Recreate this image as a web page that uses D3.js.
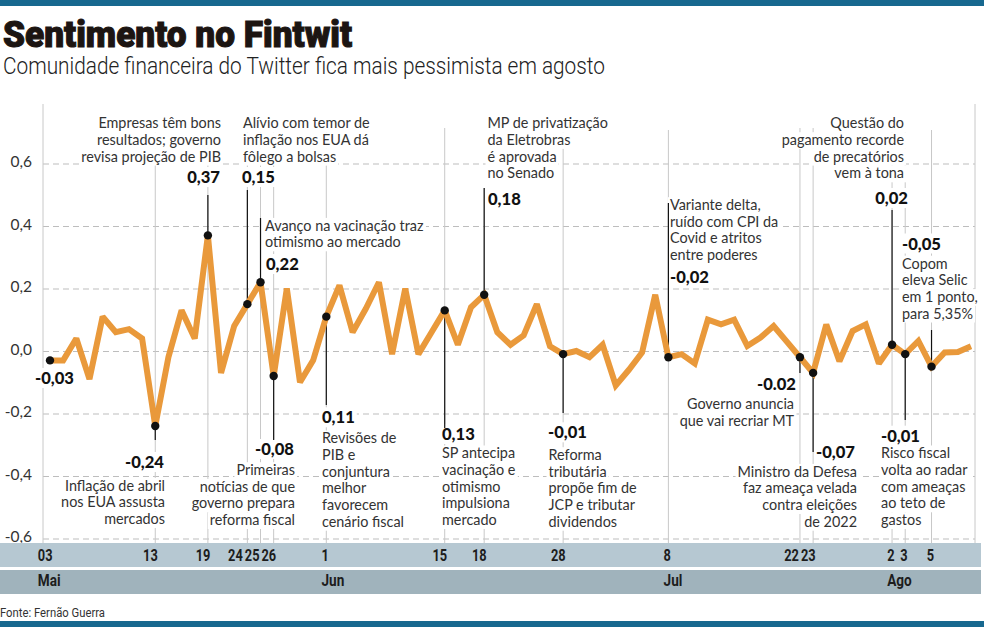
<!DOCTYPE html>
<html><head><meta charset="utf-8">
<script src="https://cdn.jsdelivr.net/npm/d3@7"></script>
<style>
body{margin:0;background:#fff;}
svg{display:block;}
</style></head><body>
<svg id="chart" width="984" height="627"></svg>
<script>
// ---------- DATA ----------
const values = [
  -0.03,-0.03,0.04,-0.09,0.11,0.06,0.07,0.04,-0.24,-0.02,
  0.13,0.04,0.37,-0.07,0.08,0.15,0.22,-0.08,0.20,-0.10,
  -0.03,0.11,0.21,0.06,0.135,0.22,-0.01,0.20,-0.01,0.06,
  0.13,0.02,0.14,0.18,0.06,0.02,0.05,0.15,0.015,-0.01,
  0.0,-0.02,0.02,-0.11,-0.06,-0.005,0.18,-0.02,-0.01,-0.04,
  0.10,0.085,0.10,0.016,0.043,0.08,0.03,-0.02,-0.07,0.085,
  -0.033,0.064,0.085,-0.04,0.02,-0.01,0.032,-0.05,-0.005,-0.003,0.015
];
const yTicks = [-0.6,-0.4,-0.2,0,0.2,0.4,0.6];
const tickIdx = [0,8,12,15,16,17,21,30,33,39,47,57,58,64,65,67];
const tickLabels = ["03","13","19","24","25","26","1","15","18","28","8","22","23","2","3","5"];
const monthLabels = ["Mai","Jun","Jul","Ago"];
const monthTickPos = [0,6,10,13];

const eventIdx = [0,8,12,15,16,17,21,30,33,39,47,57,58,64,65,67];
const eventValueLabels = ["-0,03","-0,24","0,37","0,15","0,22","-0,08","0,11","0,13","0,18","-0,01","-0,02","-0.02","-0,07","0,02","-0,01","-0,05"];
const eventTexts = [
  [],
  ["Inflação de abril","nos EUA assusta","mercados"],
  ["Empresas têm bons","resultados; governo","revisa projeção de PIB"],
  ["Alívio com temor de","inflação nos EUA dá","fôlego a bolsas"],
  ["Avanço na vacinação traz","otimismo ao mercado"],
  ["Primeiras","notícias de que","governo prepara","reforma fiscal"],
  ["Revisões de","PIB e","conjuntura","melhor","favorecem","cenário fiscal"],
  ["SP antecipa","vacinação e","otimismo","impulsiona","mercado"],
  ["MP de privatização","da Eletrobras","é aprovada","no Senado"],
  ["Reforma","tributária","propõe fim de","JCP e tributar","dividendos"],
  ["Variante delta,","ruído com CPI da","Covid e atritos","entre poderes"],
  ["Governo anuncia","que vai recriar MT"],
  ["Ministro da Defesa","faz ameaça velada","contra eleições","de 2022"],
  ["Questão do","pagamento recorde","de precatórios","vem à tona"],
  ["Risco fiscal","volta ao radar","com ameaças","ao teto de","gastos"],
  ["Copom","eleva Selic","em 1 ponto,","para 5,35%"]
];

// ---------- LAYOUT (pixel placement of annotations) ----------
const eventLayout = [
  {vx:35,  va:"start", vy:384,   tx:0,     ta:"start", ty:0,     lead:null, top:null},
  {vx:164, va:"end",   vy:468,   tx:165,   ta:"end",   ty:490.7, lead:440,  top:128},
  {vx:220, va:"end",   vy:183,   tx:221,   ta:"end",   ty:128.3, lead:195,  top:128},
  {vx:242, va:"start", vy:183,   tx:243,   ta:"start", ty:128.3, lead:190,  top:128},
  {vx:266, va:"start", vy:270,   tx:265,   ta:"start", ty:230.7, lead:218,  top:128},
  {vx:294, va:"end",   vy:455,   tx:295,   ta:"end",   ty:475,   lead:440,  top:128},
  {vx:322, va:"start", vy:423.3, tx:322,   ta:"start", ty:443.3, lead:405,  top:128},
  {vx:442, va:"start", vy:440,   tx:442,   ta:"start", ty:458.3, lead:428,  top:128},
  {vx:488, va:"start", vy:205,   tx:487.5, ta:"start", ty:128.3, lead:188,  top:188},
  {vx:548, va:"start", vy:438.3, tx:548.5, ta:"start", ty:460,   lead:413,  top:128},
  {vx:670, va:"start", vy:282.7, tx:670,   ta:"start", ty:210,   lead:203,  top:130},
  {vx:796, va:"end",   vy:389.5, tx:794,   ta:"end",   ty:409,   lead:373,  top:128},
  {vx:816, va:"start", vy:458.3, tx:857,   ta:"end",   ty:476.7, lead:452,  top:128},
  {vx:908, va:"end",   vy:204,   tx:904,   ta:"end",   ty:128.3, lead:210,  top:128},
  {vx:881, va:"start", vy:441.7, tx:881,   ta:"start", ty:458.3, lead:420,  top:128},
  {vx:902, va:"start", vy:249.5, tx:902,   ta:"start", ty:268.5, lead:330,  top:130}
];

// ---------- CHART ----------
const W = 984, H = 627;
const BLUE = "#17688f", ORANGE = "#e9993b";
const TXT_FONT = "Lato, 'Open Sans', sans-serif";
const COND_FONT = "Roboto, 'Liberation Sans', sans-serif";
const svg = d3.select("#chart");

const x = d3.scaleLinear().domain([0, values.length - 1]).range([50, 971]);
const y = d3.scaleLinear().domain([-0.6, 0.6]).range([538.5, 163.5]);
const PLOT_L = 43, PLOT_R = 975, PLOT_T = 104, PLOT_B = 543;

function condense(sel, f) {
  sel.each(function () {
    const w = this.getComputedTextLength();
    this.__w = w * f;
    d3.select(this).attr("textLength", w * f).attr("lengthAdjust", "spacingAndGlyphs");
  });
}

// bars
svg.append("rect").attr("x", 0).attr("y", 0).attr("width", W).attr("height", 6).attr("fill", BLUE);
svg.append("rect").attr("x", 0).attr("y", 621).attr("width", W).attr("height", 6).attr("fill", BLUE);

// title & subtitle
svg.append("text").attr("x", 3).attr("y", 47).text("Sentimento no Fintwit")
  .attr("font-family", COND_FONT).attr("font-weight", 900).attr("font-size", 36)
  .attr("fill", "#1c1512").attr("stroke", "#1c1512").attr("stroke-width", 1.1)
  .attr("textLength", 349).attr("lengthAdjust", "spacingAndGlyphs");
svg.append("text").attr("x", 3).attr("y", 74)
  .text("Comunidade financeira do Twitter fica mais pessimista em agosto")
  .attr("font-family", COND_FONT).attr("font-weight", 300).attr("font-size", 23)
  .attr("fill", "#222").attr("textLength", 602).attr("lengthAdjust", "spacingAndGlyphs");

// y grid / axis
const fmt = d => d3.format(".1f")(d).replace("−", "-").replace(".", ",");
const yAxis = d3.axisLeft(y).tickValues(yTicks).tickFormat(fmt)
  .tickSize(-(PLOT_R - PLOT_L)).tickPadding(11);
const gy = svg.append("g").attr("transform", `translate(${PLOT_L},0)`).call(yAxis);
gy.select(".domain").remove();
gy.selectAll("line").attr("stroke", "#bdbdbd").attr("stroke-dasharray", "6,4");
gy.selectAll("text").attr("font-family", TXT_FONT).attr("font-size", 15.5)
  .attr("fill", "#333").attr("dy", "0.2em");

// frame verticals
[PLOT_L, PLOT_R].forEach(px => {
  svg.append("line").attr("x1", px).attr("x2", px).attr("y1", PLOT_T).attr("y2", PLOT_B)
    .attr("stroke", "#c8c8c8").attr("stroke-width", 1);
});

// event grey verticals
const gVert = svg.append("g");
eventIdx.forEach((idx, k) => {
  const L = eventLayout[k];
  if (L.top == null) return;
  gVert.append("line").attr("x1", x(idx)).attr("x2", x(idx))
    .attr("y1", L.top).attr("y2", PLOT_B)
    .attr("stroke", "#c8c8c8").attr("stroke-width", 1);
});

const gBg = svg.append("g");
const gTxt = svg.append("g");
const LH = 16.7;

eventIdx.forEach((idx, k) => {
  const L = eventLayout[k];
  // value label
  const v = gTxt.append("text").attr("x", L.vx).attr("y", L.vy).attr("text-anchor", L.va)
    .attr("font-family", TXT_FONT).attr("font-weight", 900).attr("font-size", 16.6)
    .attr("fill", "#111").text(eventValueLabels[k]);
  const bb = v.node().getBBox();
  gBg.append("rect").attr("x", bb.x - 2).attr("y", bb.y).attr("width", bb.width + 4)
    .attr("height", bb.height).attr("fill", "#fff");
  // descriptive text
  eventTexts[k].forEach((line, j) => {
    const yy = L.ty + j * LH;
    const t = gTxt.append("text").attr("x", L.tx).attr("y", yy).attr("text-anchor", L.ta)
      .attr("font-family", TXT_FONT).attr("font-size", 14.4).attr("fill", "#333").text(line);
    const b = t.node().getBBox();
    gBg.append("rect").attr("x", b.x - 2).attr("y", yy - 12.8).attr("width", b.width + 4)
      .attr("height", LH).attr("fill", "#fff");
  });
});

// leaders
const gLead = svg.append("g");
eventIdx.forEach((idx, k) => {
  const L = eventLayout[k];
  if (L.lead == null) return;
  gLead.append("line").attr("x1", x(idx)).attr("x2", x(idx))
    .attr("y1", y(values[idx])).attr("y2", L.lead)
    .attr("stroke", "#111").attr("stroke-width", 1.2);
});

// series line
const line = d3.line().x((d, i) => x(i)).y(d => y(d));
svg.append("path").datum(values).attr("d", line).attr("fill", "none")
  .attr("stroke", ORANGE).attr("stroke-width", 6)
  .attr("stroke-linejoin", "miter").attr("stroke-miterlimit", 2.2);

// dots
svg.append("g").selectAll("circle").data(eventIdx).join("circle")
  .attr("cx", d => x(d)).attr("cy", d => y(values[d])).attr("r", 4.2).attr("fill", "#111");

// x bands
svg.append("rect").attr("x", 0).attr("y", 543).attr("width", 981).attr("height", 24).attr("fill", "#b6c8d2");
svg.append("rect").attr("x", 0).attr("y", 570).attr("width", 981).attr("height", 24).attr("fill", "#a0b3bc");

const dayAxis = d3.axisBottom(x).tickValues(tickIdx).tickFormat((d, i) => tickLabels[i])
  .tickSize(0).tickPadding(0);
const gDay = svg.append("g").attr("transform", "translate(0,561)").call(dayAxis);
gDay.select(".domain").remove();
const dayTexts = gDay.selectAll("text").attr("y", 0).attr("dy", null).attr("x", 2)
  .attr("text-anchor", "end").attr("font-family", COND_FONT).attr("font-weight", 700)
  .attr("font-size", 16).attr("fill", "#1d1d1d");
condense(dayTexts, 0.8);
const pos = dayTexts.nodes().map((n, i) => ({ n, tx: x(tickIdx[i]), lx: 2, w: n.__w }));
for (let i = pos.length - 2; i >= 0; i--) {
  const nextLeft = pos[i + 1].tx + pos[i + 1].lx - pos[i + 1].w;
  const right = pos[i].tx + pos[i].lx;
  if (right > nextLeft - 2) pos[i].lx = nextLeft - 2 - pos[i].tx;
}
pos.forEach(p => d3.select(p.n).attr("x", p.lx));

const monthAxis = d3.axisBottom(x).tickValues(monthTickPos.map(i => tickIdx[i]))
  .tickFormat((d, i) => monthLabels[i]).tickSize(0).tickPadding(0);
const gMon = svg.append("g").attr("transform", "translate(0,586)").call(monthAxis);
gMon.select(".domain").remove();
const monTexts = gMon.selectAll("text").attr("y", 0).attr("dy", null)
  .attr("text-anchor", "start").attr("font-family", COND_FONT).attr("font-weight", 700)
  .attr("font-size", 16).attr("fill", "#1d1d1d")
  .attr("x", (d, i) => { const p = pos[monthTickPos[i]]; return p.lx - p.w; });
condense(monTexts, 0.85);

// source
svg.append("text").attr("x", 0).attr("y", 617).text("Fonte: Fernão Guerra")
  .attr("font-family", COND_FONT).attr("font-size", 12).attr("fill", "#333")
  .attr("textLength", 105).attr("lengthAdjust", "spacingAndGlyphs");
</script>
</body></html>
